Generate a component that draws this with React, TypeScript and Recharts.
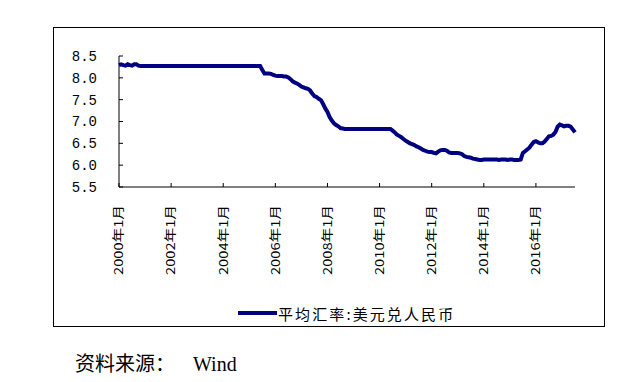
import React from "react";
import { LineChart, Line, XAxis, YAxis } from "recharts";

// monthly average USD/CNY, Jan 2000 .. Jul 2017
const y2000 = [8.29, 8.31, 8.29, 8.28, 8.31, 8.29, 8.28, 8.31, 8.31, 8.28, 8.27, 8.27];
const y2001 = [8.27, 8.27, 8.27, 8.27, 8.27, 8.27, 8.27, 8.27, 8.27, 8.27, 8.27, 8.27];
const y2002 = [8.27, 8.27, 8.27, 8.27, 8.27, 8.27, 8.27, 8.27, 8.27, 8.27, 8.27, 8.27];
const y2003 = [8.27, 8.27, 8.27, 8.27, 8.27, 8.27, 8.27, 8.27, 8.27, 8.27, 8.27, 8.27];
const y2004 = [8.27, 8.27, 8.27, 8.27, 8.27, 8.27, 8.27, 8.27, 8.27, 8.27, 8.27, 8.27];
const y2005 = [8.27, 8.27, 8.27, 8.27, 8.27, 8.27, 8.18, 8.1, 8.1, 8.1, 8.09, 8.07];
const y2006 = [8.05, 8.04, 8.04, 8.04, 8.03, 8.03, 8.01, 7.97, 7.92, 7.89, 7.87, 7.84];
const y2007 = [7.8, 7.78, 7.76, 7.75, 7.71, 7.64, 7.58, 7.56, 7.52, 7.49, 7.4, 7.3];
const y2008 = [7.22, 7.1, 7.02, 6.96, 6.92, 6.89, 6.85, 6.84, 6.83, 6.83, 6.83, 6.83];
const y2009 = [6.83, 6.83, 6.83, 6.83, 6.83, 6.83, 6.83, 6.83, 6.83, 6.83, 6.83, 6.83];
const y2010 = [6.83, 6.83, 6.83, 6.83, 6.83, 6.83, 6.79, 6.75, 6.7, 6.67, 6.64, 6.6];
const y2011 = [6.56, 6.53, 6.5, 6.48, 6.46, 6.43, 6.41, 6.38, 6.35, 6.33, 6.31, 6.3];
const y2012 = [6.3, 6.28, 6.27, 6.31, 6.34, 6.35, 6.35, 6.33, 6.29, 6.28, 6.28, 6.28];
const y2013 = [6.28, 6.27, 6.25, 6.21, 6.19, 6.18, 6.17, 6.15, 6.14, 6.13, 6.12, 6.12];
const y2014 = [6.13, 6.13, 6.13, 6.13, 6.13, 6.13, 6.13, 6.12, 6.13, 6.13, 6.13, 6.12];
const y2015 = [6.13, 6.13, 6.12, 6.12, 6.12, 6.13, 6.28, 6.32, 6.36, 6.4, 6.47, 6.53];
const y2016 = [6.55, 6.52, 6.5, 6.5, 6.54, 6.6, 6.66, 6.67, 6.7, 6.76, 6.88, 6.93];
const y2017 = [6.91, 6.89, 6.9, 6.9, 6.88, 6.82, 6.75];

const rates = [
  ...y2000, ...y2001, ...y2002, ...y2003, ...y2004, ...y2005,
  ...y2006, ...y2007, ...y2008, ...y2009, ...y2010, ...y2011,
  ...y2012, ...y2013, ...y2014, ...y2015, ...y2016, ...y2017,
];

const xTicks = [0, 24, 48, 72, 96, 120, 144, 168, 192];
const xTickLabels = [
  "2000年1月", "2002年1月", "2004年1月", "2006年1月", "2008年1月",
  "2010年1月", "2012年1月", "2014年1月", "2016年1月",
];
const yTicks = [5.5, 6.0, 6.5, 7.0, 7.5, 8.0, 8.5];

const seriesName = "平均汇率:美元兑人民币";
const navy = "#000080";

const data = rates.map((v, i) => ({ i, rate: v }));

function MonthTick({ x, payload }: any) {
  const k = xTicks.indexOf(payload.value);
  const top = 205;
  return (
    <text
      x={x}
      y={top}
      dy="0.36em"
      transform={`rotate(-90, ${x}, ${top})`}
      textAnchor="end"
      fontSize={12}
      fontFamily="'Noto Sans CJK SC', sans-serif"
      fill="#000"
      textLength={70}
      lengthAdjust="spacingAndGlyphs"
    >
      {xTickLabels[k]}
    </text>
  );
}

export default function App() {
  return (
    <div
      style={{
        position: "absolute",
        left: 0,
        top: 0,
        width: 640,
        height: 382,
        background: "#fff",
        fontFamily: "'Noto Sans CJK SC', sans-serif",
      }}
    >
      <div
        style={{
          position: "absolute",
          left: 53,
          top: 27,
          width: 550,
          height: 298,
          border: "1px solid #000",
        }}
      />
      <div style={{ position: "absolute", left: 0, top: 0 }}>
        <LineChart
          width={640}
          height={382}
          data={data}
          margin={{ top: 56, right: 65, bottom: 105, left: 59 }}
        >
          <XAxis
            dataKey="i"
            type="number"
            domain={[0, 210]}
            ticks={xTicks}
            interval={0}
            height={90}
            tickSize={-4}
            tickMargin={0}
            axisLine={{ stroke: "#000" }}
            tickLine={{ stroke: "#000" }}
            tick={<MonthTick />}
          />
          <YAxis
            type="number"
            domain={[5.5, 8.5]}
            ticks={yTicks}
            interval={0}
            width={60}
            tickSize={-4}
            tickMargin={26}
            axisLine={{ stroke: "#000" }}
            tickLine={{ stroke: "#000" }}
            tickFormatter={(v: number) => v.toFixed(1)}
            tick={{
              fill: "#000",
              fontSize: 14,
              fontFamily: "'Liberation Mono', monospace",
            }}
          />
          <Line
            dataKey="rate"
            name={seriesName}
            type="linear"
            stroke={navy}
            strokeWidth={4}
            dot={false}
            isAnimationActive={false}
          />
        </LineChart>
      </div>
      <div
        style={{
          position: "absolute",
          left: 238,
          top: 300,
          height: 26,
          display: "flex",
          alignItems: "center",
        }}
      >
        <span style={{ width: 39, height: 4, background: navy, display: "inline-block" }} />
        <span style={{ fontSize: 15, letterSpacing: 2.1, marginLeft: 1, color: "#000" }}>
          {seriesName}
        </span>
      </div>
      <div
        style={{
          position: "absolute",
          left: 75,
          top: 349,
          fontSize: 20,
          lineHeight: "28px",
          color: "#000",
          whiteSpace: "nowrap",
        }}
      >
        <span>资料来源：</span>
        <span style={{ fontFamily: "'Liberation Serif', serif", fontSize: 20, marginLeft: 18 }}>
          Wind
        </span>
      </div>
    </div>
  );
}
